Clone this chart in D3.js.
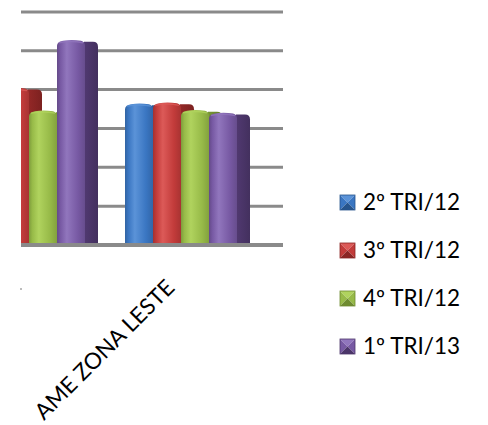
<!DOCTYPE html>
<html><head><meta charset="utf-8">
<script src="https://cdn.jsdelivr.net/npm/d3@7"></script>
<style>body{margin:0;background:#fff}svg{display:block}</style>
</head><body><svg id="c" width="488" height="425"></svg>
<script>
const categories = ["AME ZONA NORTE", "AME ZONA LESTE"];
const series = ["2º TRI/12", "3º TRI/12", "4º TRI/12", "1º TRI/13"];
const values = {
  "2º TRI/12": [38, 36],
  "3º TRI/12": [40, 36.2],
  "4º TRI/12": [34.2, 34.3],
  "1º TRI/13": [52.3, 33.6]
};
const yTicks = [0, 10, 20, 30, 40, 50, 60];
const colors = {
  "2º TRI/12": {front:"#3a76c2", light:"#5b93d8", side:"#26548c"},
  "3º TRI/12": {front:"#c23b3a", light:"#dc5a58", side:"#8a2524"},
  "4º TRI/12": {front:"#97ba48", light:"#b0d35e", side:"#6e8b30"},
  "1º TRI/13": {front:"#7759a3", light:"#9176bd", side:"#4b3569"}
};

const svg = d3.select("#c");
const defs = svg.append("defs");
const plot = {left:21, right:283, top:12, bottom:245};

const y = d3.scaleLinear().domain([0, 60]).range([plot.bottom, plot.bottom - 6*38.85]);
const x0 = d3.scaleBand().domain(categories).range([-47, 257]).paddingInner(40/152).paddingOuter(20/152);
const x1 = d3.scaleBand().domain(series).range([0, x0.bandwidth()]);

series.forEach((s,i)=>{
  const c = colors[s];
  const g = defs.append("linearGradient").attr("id","f"+i).attr("x1","0").attr("x2","1").attr("y1","0").attr("y2","0");
  g.append("stop").attr("offset","0").attr("stop-color", d3.color(c.front).darker(0.5));
  g.append("stop").attr("offset","0.12").attr("stop-color", c.front);
  g.append("stop").attr("offset","0.35").attr("stop-color", c.light);
  g.append("stop").attr("offset","0.75").attr("stop-color", c.front);
  g.append("stop").attr("offset","1").attr("stop-color", d3.color(c.front).darker(0.4));
  const gs = defs.append("linearGradient").attr("id","s"+i).attr("x1","0").attr("x2","1");
  gs.append("stop").attr("offset","0").attr("stop-color", d3.color(c.side).brighter(0.2));
  gs.append("stop").attr("offset","1").attr("stop-color", d3.color(c.side).darker(0.3));
});
defs.append("clipPath").attr("id","clip").append("rect").attr("x",plot.left).attr("y",0).attr("width",300).attr("height",plot.bottom);

svg.append("g").selectAll("line").data(yTicks.slice(1)).join("line")
  .attr("x1",plot.left).attr("x2",plot.right).attr("y1",d=>y(d)).attr("y2",d=>y(d))
  .attr("stroke","#8a8a8a").attr("stroke-width",3);

const bw = x1.bandwidth();
const depth = 13;
const gBars = svg.append("g").attr("clip-path","url(#clip)");
categories.forEach((cat,ci)=>{
  series.forEach((s,si)=>{
    const v = values[s][ci];
    const bx = x0(cat) + x1(s);
    const ty = y(v);
    const by = plot.bottom - 1;
    const g = gBars.append("g");
    const sx = bx + bw - 1, ex = bx + bw + depth;
    g.append("path").attr("d", `M${sx},${ty} L${ex-5},${ty} Q${ex},${ty} ${ex},${ty+5} L${ex},${by} L${sx},${by} Z`)
      .attr("fill", `url(#s${si})`);
    const r = 4;
    g.append("path").attr("d", `M${bx},${by} L${bx},${ty+r} Q${bx},${ty} ${bx+r+2},${ty-1} Q${bx+bw/2},${ty-2.5} ${bx+bw-r},${ty-1} Q${bx+bw},${ty} ${bx+bw},${ty+r} L${bx+bw},${by} Z`)
      .attr("fill", `url(#f${si})`);
    g.append("path").attr("d", `M${bx+2},${ty+1} Q${bx+bw/2},${ty-1.5} ${bx+bw-2},${ty+1}`)
      .attr("fill","none").attr("stroke", colors[s].light).attr("stroke-width",1.5).attr("opacity",0.8);
  });
});

svg.append("line").attr("x1",plot.left).attr("x2",plot.right).attr("y1",plot.bottom).attr("y2",plot.bottom)
  .attr("stroke","#8a8a8a").attr("stroke-width",4);

svg.append("g").selectAll("text").data(categories.slice(1)).join("text")
  .attr("transform", d=>`translate(${x0(d)+x0.bandwidth()/2-5},${289}) rotate(-45)`)
  .attr("text-anchor","end")
  .attr("font-family","Lato, 'Open Sans', sans-serif").attr("font-size",22.5).attr("fill","#000")
  .text(d=>d);
svg.append("circle").attr("cx",21).attr("cy",289).attr("r",0.8).attr("fill","#666");

const lg = svg.append("g").selectAll("g").data(series).join("g")
  .attr("transform",(d,i)=>`translate(340,${195 + i*48})`);
const sq = 15;
lg.each(function(s){
  const g = d3.select(this), c = colors[s];
  const m = sq/2;
  g.append("path").attr("d",`M0,0 L${sq},0 L${m},${m} Z`).attr("fill", c.light);
  g.append("path").attr("d",`M0,0 L${m},${m} L0,${sq} Z`).attr("fill", c.front);
  g.append("path").attr("d",`M${sq},0 L${m},${m} L${sq},${sq} Z`).attr("fill", c.front);
  g.append("path").attr("d",`M0,${sq} L${m},${m} L${sq},${sq} Z`).attr("fill", c.side);
  g.append("rect").attr("width",sq).attr("height",sq).attr("fill","none").attr("stroke",c.side).attr("stroke-width",0.8);
});
lg.append("text").attr("x",23).attr("y",15)
  .attr("font-family","Lato, 'Open Sans', sans-serif").attr("font-size",22.5).attr("fill","#000")
  .text(d=>d);
</script></body></html>
